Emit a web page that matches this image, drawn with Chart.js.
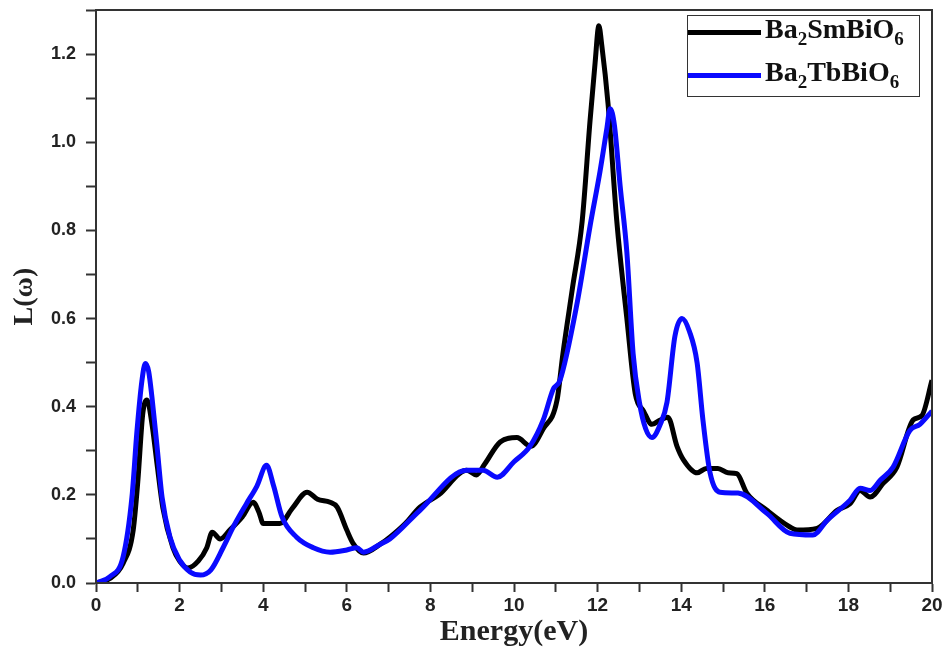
<!DOCTYPE html>
<html>
<head>
<meta charset="utf-8">
<script src="https://cdn.jsdelivr.net/npm/chart.js@4.4.1/dist/chart.umd.min.js"></script>
<style>
    body { margin: 0; background: #fff; }
    #wrap { position: relative; width: 949px; height: 652px; }
    #legendBox {
        position: absolute; left: 687px; top: 15px; width: 233px; height: 82px;
        border: 1.5px solid #333; box-sizing: border-box; background: #fff;
        font-family: "Liberation Serif", "DejaVu Serif", serif; font-weight: bold; font-size: 28px; color: #111;
    }
    .row { position: absolute; left: 0; height: 40px; width: 100%; }
    .row .swatch { position: absolute; left: 0; width: 73px; height: 5px; }
    .row .txt { position: absolute; left: 77px; white-space: nowrap; }
    .row sub { font-size: 19px; vertical-align: -7px; }
</style>
</head>
<body>
<div id="wrap">
    <canvas id="myChart" width="949" height="652"></canvas>
    <div id="legendBox"></div>
</div>
<script>
    // series names
    var seriesNames = ["Ba<sub>2</sub>SmBiO<sub>6</sub>", "Ba<sub>2</sub>TbBiO<sub>6</sub>"];
    var seriesColors = ["#000000", "#0a0aff"];

    // Ba2SmBiO6 (black)
    var energySm = [0, 0.33, 0.65, 0.89, 1.0, 1.12, 1.22, 1.34, 1.46, 1.6, 1.84, 2.0, 2.2, 2.45, 2.65, 2.78, 2.97, 3.2, 3.5, 3.76, 3.9, 4.0, 4.4, 4.7, 5.05, 5.3, 5.6, 5.77, 6.0, 6.15, 6.4, 6.8, 7.03, 7.4, 7.75, 8.2, 8.87, 9.1, 9.3, 9.67, 10.07, 10.4, 10.7, 11.03, 11.17, 11.4, 11.63, 11.82, 11.94, 12.03, 12.1, 12.25, 12.46, 12.7, 12.9, 13.1, 13.3, 13.5, 13.68, 13.9, 14.05, 14.38, 14.6, 14.88, 15.12, 15.33, 15.57, 16.05, 16.6, 16.77, 17.25, 17.73, 18.04, 18.28, 18.52, 18.83, 19.16, 19.55, 19.76, 20];
    var lossSm = [0, 0.01, 0.045, 0.12, 0.23, 0.385, 0.415, 0.36, 0.27, 0.17, 0.08, 0.05, 0.034, 0.05, 0.08, 0.115, 0.10, 0.12, 0.15, 0.183, 0.16, 0.135, 0.135, 0.17, 0.206, 0.19, 0.183, 0.172, 0.12, 0.09, 0.068, 0.088, 0.104, 0.135, 0.172, 0.2, 0.256, 0.245, 0.27, 0.32, 0.33, 0.31, 0.35, 0.415, 0.52, 0.67, 0.82, 1.05, 1.18, 1.264, 1.22, 1.087, 0.82, 0.6, 0.43, 0.39, 0.36, 0.37, 0.376, 0.31, 0.28, 0.25, 0.26, 0.26, 0.25, 0.248, 0.204, 0.165, 0.127, 0.12, 0.124, 0.165, 0.18, 0.21, 0.195, 0.226, 0.263, 0.37, 0.38, 0.46];

    // Ba2TbBiO6 (blue)
    var energyTb = [0, 0.33, 0.65, 0.86, 0.98, 1.1, 1.18, 1.26, 1.34, 1.46, 1.58, 1.77, 2.0, 2.25, 2.5, 2.75, 3.04, 3.3, 3.6, 3.85, 4.08, 4.25, 4.45, 4.8, 5.2, 5.6, 6.0, 6.24, 6.4, 6.8, 7.03, 7.75, 8.87, 9.26, 9.6, 10.0, 10.38, 10.7, 10.94, 11.1, 11.5, 11.82, 12.06, 12.22, 12.3, 12.4, 12.54, 12.7, 12.85, 13.0, 13.15, 13.3, 13.5, 13.66, 13.85, 14.02, 14.2, 14.38, 14.52, 14.69, 14.93, 15.36, 16.05, 16.6, 17.15, 17.5, 18.04, 18.28, 18.52, 18.76, 19.07, 19.47, 19.71, 20];
    var lossTb = [0, 0.014, 0.06, 0.195, 0.345, 0.46, 0.498, 0.48, 0.42, 0.31, 0.195, 0.104, 0.052, 0.025, 0.018, 0.03, 0.08, 0.13, 0.18, 0.22, 0.267, 0.22, 0.15, 0.104, 0.08, 0.07, 0.075, 0.08, 0.07, 0.088, 0.10, 0.165, 0.256, 0.256, 0.24, 0.275, 0.31, 0.37, 0.44, 0.46, 0.63, 0.81, 0.935, 1.03, 1.076, 1.04, 0.9, 0.75, 0.52, 0.41, 0.35, 0.33, 0.36, 0.41, 0.56, 0.60, 0.57, 0.5, 0.37, 0.25, 0.206, 0.204, 0.158, 0.113, 0.109, 0.143, 0.188, 0.215, 0.21, 0.233, 0.263, 0.346, 0.36, 0.39];

    // axis settings
    var xMin = 0, xMax = 20, xStep = 1;
    var yMin = 0, yMax = 1.3, yStep = 0.1;

    function toPoints(xs, ys) {
        var pts = [];
        for (var i = 0; i < xs.length; i++) {
            pts.push({ x: xs[i], y: ys[i] });
        }
        return pts;
    }

    // html legend so the subscripts come out right
    function buildLegend() {
        var box = document.getElementById("legendBox");
        var tops = [-3, 40];
        for (var i = 0; i < seriesNames.length; i++) {
            var row = document.createElement("div");
            row.className = "row";
            row.style.top = tops[i] + "px";
            row.innerHTML = '<div class="swatch" style="top:17px;background:' + seriesColors[i] + '"></div>' +
                '<div class="txt" style="top:0px">' + seriesNames[i] + '</div>';
            box.appendChild(row);
        }
    }

    // top + right frame lines
    var framePlugin = {
        id: "frame",
        afterDraw: function (chart) {
            var a = chart.chartArea, ctx = chart.ctx;
            ctx.save();
            ctx.strokeStyle = "#333";
            ctx.lineWidth = 2;
            ctx.strokeRect(a.left, a.top, a.right - a.left, a.bottom - a.top);
            ctx.restore();
        }
    };

    var tickFontX = { family: "'Liberation Sans Narrow', 'Liberation Sans', Arial, sans-serif", weight: "bold", size: 19 };
    var tickFontY = { family: "'Liberation Sans', Arial, sans-serif", weight: "bold", size: 18 };
    var titleFont = { family: "'Liberation Serif', 'DejaVu Serif', serif", weight: "bold", size: 28 };

    var ctx = document.getElementById("myChart").getContext("2d");
    var myChart = new Chart(ctx, {
        type: "scatter",
        data: {
            datasets: [{
                label: "Ba2SmBiO6",
                data: toPoints(energySm, lossSm),
                showLine: true,
                borderColor: seriesColors[0],
                borderWidth: 5,
                pointRadius: 0,
                cubicInterpolationMode: "monotone",
                order: 1
            }, {
                label: "Ba2TbBiO6",
                data: toPoints(energyTb, lossTb),
                showLine: true,
                borderColor: seriesColors[1],
                borderWidth: 5,
                pointRadius: 0,
                cubicInterpolationMode: "monotone",
                order: 0
            }]
        },
        options: {
            responsive: false,
            animation: false,
            layout: { padding: { top: 10, right: 17, left: 0, bottom: 0 } },
            plugins: {
                legend: { display: false },
                tooltip: { enabled: false }
            },
            scales: {
                x: {
                    type: "linear",
                    min: xMin, max: xMax,
                    afterFit: function (scale) { scale.height = 69; scale.paddingRight = 0; },
                    border: { color: "#333", width: 2 },
                    grid: { drawOnChartArea: false, tickLength: 9, tickColor: "#333", tickWidth: 2 },
                    ticks: {
                        stepSize: xStep, padding: 2, color: "#222", font: tickFontX, maxRotation: 0, autoSkip: false,
                        callback: function (v) { return (Math.round(v) % 2 === 0) ? String(Math.round(v)) : ""; }
                    },
                    title: { display: true, text: "Energy(eV)", color: "#222", font: { family: titleFont.family, weight: "bold", size: 30 }, padding: { top: 0, bottom: 2 } }
                },
                y: {
                    min: yMin, max: yMax,
                    afterFit: function (scale) { scale.width = 96; scale.paddingTop = 0; scale.paddingBottom = 0; },
                    border: { color: "#333", width: 2 },
                    grid: { drawOnChartArea: false, tickLength: 10, tickColor: "#333", tickWidth: 2 },
                    ticks: {
                        stepSize: yStep, padding: 10, color: "#222", font: tickFontY, autoSkip: false,
                        callback: function (v) {
                            var r = Math.round(v * 10);
                            return (r % 2 === 0 && r <= 12) ? (r / 10).toFixed(1) : "";
                        }
                    },
                    title: { display: true, text: "L(ω)", color: "#222", font: titleFont, padding: { top: 8, bottom: 0 } }
                }
            }
        },
        plugins: [framePlugin]
    });

    buildLegend();
</script>
</body>
</html>
